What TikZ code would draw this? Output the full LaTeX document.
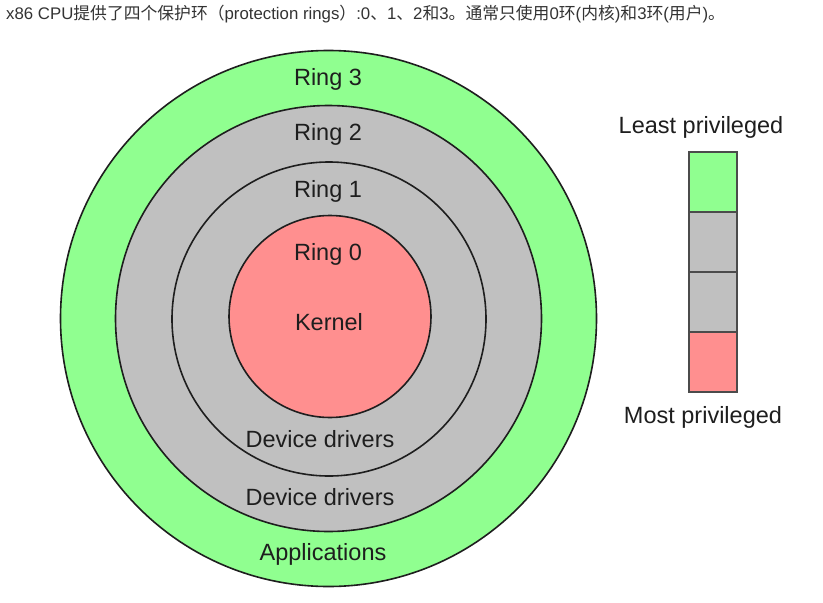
\documentclass[tikz,border=0pt]{standalone}
\usepackage{fontspec}
\setmainfont{Liberation Sans}
\newfontfamily\cjk{Noto Sans CJK SC}
\definecolor{ringgreen}{RGB}{144,255,144}
\definecolor{ringgray}{RGB}{192,192,192}
\definecolor{ringred}{RGB}{255,143,143}
\definecolor{inkc}{RGB}{30,30,30}
\definecolor{headc}{RGB}{51,51,51}
\begin{document}
\begin{tikzpicture}[x=1pt,y=-1pt,
  ring/.style={circle,draw=inkc,line width=1.6pt,inner sep=0pt},
  lbl/.style={font=\fontsize{23.5}{24}\selectfont,text=inkc,inner sep=0pt},
  cell/.style={draw=inkc!80,line width=1.2pt,minimum width=48pt,minimum height=60pt,inner sep=0pt}]
\useasboundingbox[fill=white] (0,0) rectangle (823,603);
% header
\node[anchor=west,text=headc,inner sep=0pt,font=\fontsize{16.8}{17}\selectfont] (head) at (6,14)
 {x86 CPU{\cjk 提供了四个保护环（}protection rings{\cjk ）}:0{\cjk 、}1{\cjk 、}2{\cjk 和}3{\cjk 。通常只使用}0{\cjk 环}({\cjk 内核}){\cjk 和}3{\cjk 环}({\cjk 用户}){\cjk 。}};
% rings
\node[ring,fill=ringgreen,minimum size=536pt] (r3) at (328.5,318.5) {};
\node[ring,fill=ringgray,minimum size=426pt] (r2) at (328.5,318.5) {};
\node[ring,fill=ringgray,minimum size=314pt] (r1) at (329,319) {};
\node[ring,fill=ringred,minimum size=202pt] (r0) at (330,316.5) {};
% labels
\node[lbl] (t3) at (328,79.5) {Ring 3};
\node[lbl] (t2) at (328,134.5) {Ring 2};
\node[lbl] (t1) at (328,191.5) {Ring 1};
\node[lbl] (t0) at (328,254.5) {Ring 0};
\node[lbl] (tk) at (329,322.5) {Kernel};
\node[lbl] (td1) at (320,439.5) {Device drivers};
\node[lbl] (td2) at (320,497.5) {Device drivers};
\node[lbl] (ta) at (323,554.5) {Applications};
% legend
\node[cell,fill=ringgreen] (c3) at (713,182) {};
\node[cell,fill=ringgray] (c2) at (713,242) {};
\node[cell,fill=ringgray] (c1) at (713,302) {};
\node[cell,fill=ringred] (c0) at (713,362) {};
\node[lbl] (least) at (701,127.5) {Least privileged};
\node[lbl] (most) at (703,417.5) {Most privileged};
\end{tikzpicture}
\end{document}
